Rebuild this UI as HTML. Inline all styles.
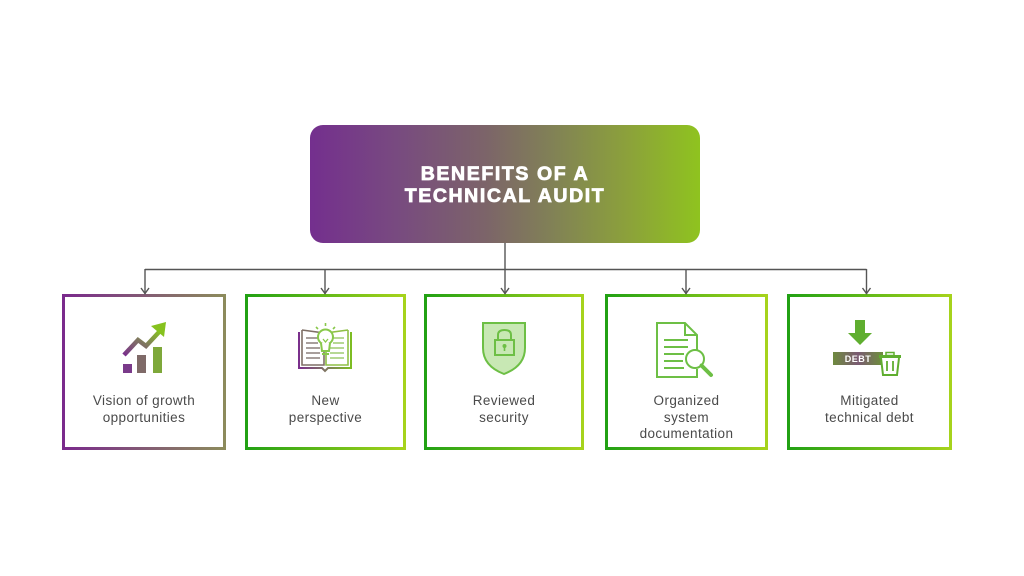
<!DOCTYPE html>
<html><head><meta charset="utf-8">
<style>
html,body{margin:0;padding:0;background:#fff;}
body{width:1024px;height:576px;position:relative;overflow:hidden;font-family:"Liberation Sans",sans-serif;}
.hdr{position:absolute;left:310px;top:125px;width:390px;height:118px;border-radius:13px;
background:linear-gradient(to right,#742f8e 0%,#784a80 22%,#7c6469 45%,#818156 62%,#8ca23a 82%,#8fc31f 100%);}
.hdr div{position:absolute;left:0;width:390px;text-align:center;color:#fff;font-weight:bold;font-size:19.5px;letter-spacing:1.6px;-webkit-text-stroke:0.8px #fff;}
.box{position:absolute;top:294px;height:156px;box-sizing:border-box;border:3px solid;}
.g{border-image:linear-gradient(to right,#22a114,#a6d31c) 1;}
.p{border-image:linear-gradient(to right,#7a2a8c,#8c8b5c) 1;}
.t{position:absolute;left:0;right:0;top:96px;text-align:center;color:#4a4a4a;font-size:13.5px;line-height:16.5px;letter-spacing:0.4px;}
svg{position:absolute;left:0;top:0;}
</style></head><body>
<div class="hdr">
<div style="top:38px;">BENEFITS OF A</div>
<div style="top:60px;">TECHNICAL AUDIT</div>
</div>

<div class="box p" style="left:62px;width:164px;"><div class="t">Vision of growth<br>opportunities</div></div>
<div class="box g" style="left:245px;width:161px;"><div class="t">New<br>perspective</div></div>
<div class="box g" style="left:424px;width:160px;"><div class="t">Reviewed<br>security</div></div>
<div class="box g" style="left:605px;width:163px;"><div class="t">Organized<br>system<br>documentation</div></div>
<div class="box g" style="left:787px;width:165px;"><div class="t">Mitigated<br>technical debt</div></div>

<svg width="1024" height="576" viewBox="0 0 1024 576">
<defs>
<linearGradient id="pg" x1="0" y1="0" x2="1" y2="0">
<stop offset="0" stop-color="#7a2f8c"/><stop offset="0.5" stop-color="#7f7462"/><stop offset="1" stop-color="#7dbd22"/>
</linearGradient>
<linearGradient id="pg2" x1="0" y1="1" x2="1" y2="0">
<stop offset="0" stop-color="#7a2f8c"/><stop offset="0.5" stop-color="#7f7462"/><stop offset="1" stop-color="#86c41e"/>
</linearGradient>
<linearGradient id="db" x1="0" y1="0" x2="1" y2="0">
<stop offset="0" stop-color="#6e8a3e"/><stop offset="0.5" stop-color="#7a5a72"/><stop offset="1" stop-color="#6d8f3a"/>
</linearGradient>
</defs>
<!-- connectors -->
<g stroke="#555" stroke-width="1.4" fill="none">
<line x1="505" y1="243" x2="505" y2="294"/>
<line x1="145" y1="269.5" x2="866.5" y2="269.5"/>
<line x1="145" y1="269" x2="145" y2="294"/>
<line x1="325" y1="269" x2="325" y2="294"/>
<line x1="686" y1="269" x2="686" y2="294"/>
<line x1="866.5" y1="269" x2="866.5" y2="294"/>
<polyline points="141,288 145,293.5 149,288"/>
<polyline points="321,288 325,293.5 329,288"/>
<polyline points="501,288 505,293.5 509,288"/>
<polyline points="682,288 686,293.5 690,288"/>
<polyline points="862.5,288 866.5,293.5 870.5,288"/>
</g>

<!-- growth icon -->
<g>
<rect x="123" y="364" width="9" height="9" fill="#7a3a8a"/>
<rect x="137" y="355" width="9" height="18" fill="#7f6a68"/>
<rect x="153" y="347" width="9" height="26" fill="#7ea83a"/>
<polyline points="124,355 138,340 146,346 160,331" fill="none" stroke="url(#pg2)" stroke-width="4.5" stroke-linejoin="miter"/>
<polygon points="166,322 164,337 151,326" fill="#86c21e"/>
</g>

<!-- book + bulb icon -->
<g fill="none" stroke-width="2">
<path d="M299,332 L299,368 L322,368 L325,371 L328,368 L351,368 L351,332" stroke="url(#pg)"/>
<path d="M302,330 L302,365 L324,365 L324,333 L302,330" stroke="#7f6f66" stroke-width="1.6"/>
<path d="M348,330 L348,365 L326,365 L326,333 L348,330" stroke="#8fbf45" stroke-width="1.6"/>
<g stroke="#8a7f7a" stroke-width="1.5">
<line x1="306" y1="338" x2="318" y2="338"/><line x1="306" y1="343" x2="318" y2="343"/>
<line x1="306" y1="348" x2="320" y2="348"/><line x1="306" y1="353" x2="320" y2="353"/>
<line x1="306" y1="358" x2="320" y2="358"/>
</g>
<g stroke="#9fcb70" stroke-width="1.5">
<line x1="333" y1="338" x2="344" y2="338"/><line x1="333" y1="343" x2="344" y2="343"/>
<line x1="330" y1="348" x2="344" y2="348"/><line x1="330" y1="353" x2="344" y2="353"/>
<line x1="330" y1="358" x2="344" y2="358"/>
</g>
<circle cx="325.5" cy="337" r="7.5" fill="#fff" stroke="#88c84a" stroke-width="2"/>
<path d="M321,343 L322,351 L329,351 L330,343" fill="#fff" stroke="#88c84a" stroke-width="2"/>
<line x1="322" y1="354" x2="329" y2="354" stroke="#88c84a"/>
<g stroke="#88c84a" stroke-width="1.6">
<line x1="325.5" y1="323" x2="325.5" y2="326"/>
<line x1="316" y1="327" x2="318" y2="329"/><line x1="335" y1="327" x2="333" y2="329"/>
</g>
<path d="M323,339 L325.5,342 L328,339" stroke="#88c84a" stroke-width="1.3"/>
</g>

<!-- shield icon -->
<g>
<path d="M483,323 L525,323 L525,348 Q525,366 504,374 Q483,366 483,348 Z" fill="#c8e8b4" stroke="#6dbf45" stroke-width="2"/>
<rect x="495" y="340" width="19" height="15" fill="none" stroke="#6dbf45" stroke-width="2"/>
<path d="M498,340 L498,335 Q498,330 504.5,330 Q511,330 511,335 L511,340" fill="none" stroke="#6dbf45" stroke-width="2"/>
<circle cx="504.5" cy="346" r="2" fill="#6dbf45"/>
<rect x="503.7" y="346" width="1.6" height="5" fill="#6dbf45"/>
</g>

<!-- document icon -->
<g fill="none" stroke="#6dbf45" stroke-width="2">
<path d="M697,351 L697,335 L685,323 L657,323 L657,377 L697,377 L697,369"/>
<path d="M685,323 L685,335 L697,335"/>
<line x1="664" y1="340" x2="688" y2="340"/>
<line x1="664" y1="347" x2="688" y2="347"/>
<line x1="664" y1="354" x2="684" y2="354"/>
<line x1="664" y1="361" x2="683" y2="361"/>
<line x1="664" y1="368" x2="684" y2="368"/>
<circle cx="695" cy="359" r="9" fill="#fff"/>
<line x1="701.5" y1="365.5" x2="711" y2="375" stroke-width="4" stroke-linecap="round"/>
</g>

<!-- debt icon -->
<g>
<polygon points="855,320 865,320 865,333 872,333 860,345 848,333 855,333" fill="#5fae2f"/>
<rect x="833" y="352" width="50" height="13" fill="url(#db)"/>
<text x="858" y="362" text-anchor="middle" font-family="Liberation Sans, sans-serif" font-weight="bold" font-size="9" fill="#fff" letter-spacing="0.5">DEBT</text>
<rect x="879" y="355" width="22" height="3" fill="#5fae2f"/>
<rect x="886" y="352.5" width="8" height="3" fill="none" stroke="#5fae2f" stroke-width="1.5"/>
<path d="M881,358 L883,375 L897,375 L899,358" fill="#fff" stroke="#5fae2f" stroke-width="2"/>
<line x1="887" y1="361" x2="887" y2="371" stroke="#5fae2f" stroke-width="1.8"/>
<line x1="893" y1="361" x2="893" y2="371" stroke="#5fae2f" stroke-width="1.8"/>
</g>
</svg>
</body></html>
